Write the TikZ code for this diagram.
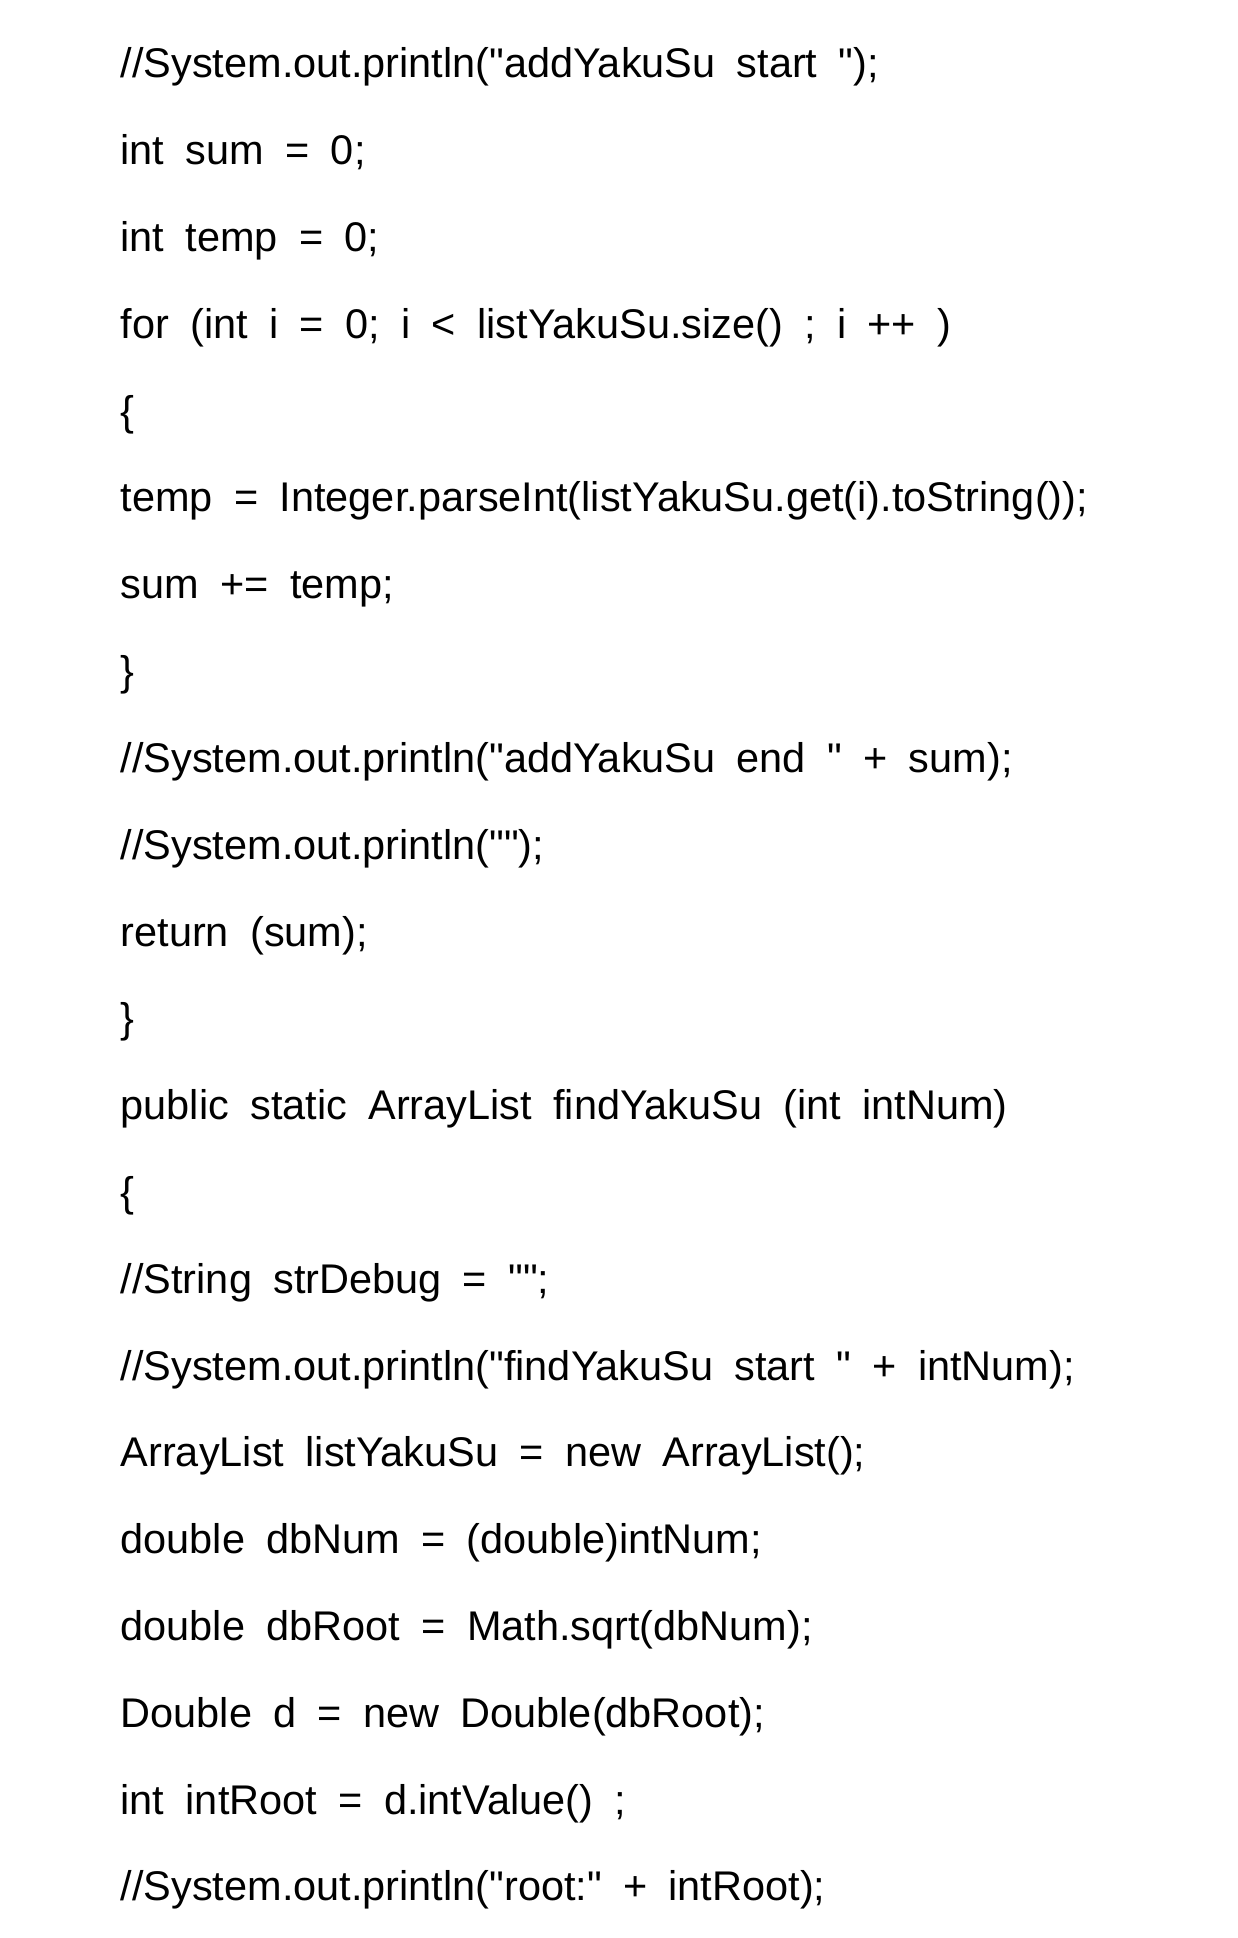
\documentclass[tikz,border=0pt]{standalone}
\usepackage{fontspec}
\newfontfamily\codefont{Liberation Sans}[WordSpace=1.85]
\usetikzlibrary{positioning}

\begin{document}
\begin{tikzpicture}[node distance=8.68mm,
    codeline/.style={anchor=base west, inner sep=0pt, font=\codefont\fontsize{11.8}{13}\selectfont},
    nextline/.style={below=of #1.base west, anchor=base west}]
  \useasboundingbox (0,0) rectangle (12.37,-19.38);
  \node[codeline] (l1) at (1.2,-0.78) {//System.out.println("addYakuSu start ");};
  \node[codeline, nextline=l1] (l2) {int sum = 0;};
  \node[codeline, nextline=l2] (l3) {int temp = 0;};
  \node[codeline, nextline=l3] (l4) {for (int i = 0; i < listYakuSu.size() ; i ++ )};
  \node[codeline, nextline=l4] (l5) {\{};
  \node[codeline, nextline=l5] (l6) {temp = Integer.parseInt(listYakuSu.get(i).toString());};
  \node[codeline, nextline=l6] (l7) {sum += temp;};
  \node[codeline, nextline=l7] (l8) {\}};
  \node[codeline, nextline=l8] (l9) {//System.out.println("addYakuSu end " + sum);};
  \node[codeline, nextline=l9] (l10) {//System.out.println("");};
  \node[codeline, nextline=l10] (l11) {return (sum);};
  \node[codeline, nextline=l11] (l12) {\}};
  \node[codeline, nextline=l12] (l13) {public static ArrayList findYakuSu (int intNum)};
  \node[codeline, nextline=l13] (l14) {\{};
  \node[codeline, nextline=l14] (l15) {//String strDebug = "";};
  \node[codeline, nextline=l15] (l16) {//System.out.println("findYakuSu start " + intNum);};
  \node[codeline, nextline=l16] (l17) {ArrayList listYakuSu = new ArrayList();};
  \node[codeline, nextline=l17] (l18) {double dbNum = (double)intNum;};
  \node[codeline, nextline=l18] (l19) {double dbRoot = Math.sqrt(dbNum);};
  \node[codeline, nextline=l19] (l20) {Double d = new Double(dbRoot);};
  \node[codeline, nextline=l20] (l21) {int intRoot = d.intValue() ;};
  \node[codeline, nextline=l21] (l22) {//System.out.println("root:" + intRoot);};
\end{tikzpicture}
\end{document}
